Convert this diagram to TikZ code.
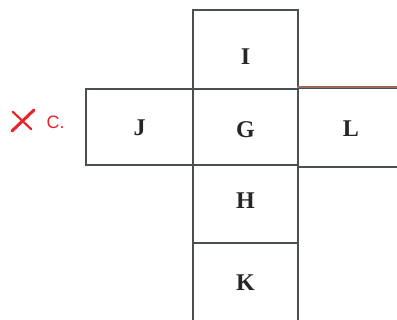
\documentclass[tikz,border=0pt]{standalone}
\usepackage{fontspec}
\setmainfont{Liberation Serif}
\newfontfamily\labelsans{Liberation Sans}
\definecolor{boxline}{HTML}{4A4F52}
\definecolor{brownline}{HTML}{9A6A5A}
\definecolor{markred}{HTML}{E8232A}
\tikzset{
  cell/.style={draw=boxline, line width=1.6pt, inner sep=0pt},
  letter/.style={inner sep=0pt, text=black!85, font=\bfseries\fontsize{24}{24}\selectfont},
}
\begin{document}
\begin{tikzpicture}[x=1pt,y=-1pt]
\useasboundingbox (0,0) rectangle (397,320);
\clip (0,0) rectangle (397,320);
\node[cell, minimum width=105pt, minimum height=79pt] (I) at (245.5,49.5) {};
\node[cell, minimum width=105pt, minimum height=76pt] (G) at (245.5,127) {};
\node[cell, minimum width=107pt, minimum height=76pt] (J) at (139.5,127) {};
\node[cell, minimum width=106pt, minimum height=79pt] (L) at (351,127.5) {};
\node[cell, minimum width=105pt, minimum height=78pt] (H) at (245.5,204) {};
\node[cell, minimum width=105pt, minimum height=82pt] (K) at (245.5,284) {};
\draw[brownline, line width=1.6pt] (L.north west) -- (L.north east);
\node[letter] (tI) at ([yshift=-7pt]I.center) {I};
\node[letter] (tG) at ([yshift=-3pt]G.center) {G};
\node[letter] (tJ) at ([yshift=-1pt]J.center) {J};
\node[letter] (tL) at ([yshift=-1.5pt]L.center) {L};
\node[letter] (tH) at ([yshift=3pt]H.center) {H};
\node[letter] (tK) at ([yshift=1pt]K.center) {K};
\node[text=markred, font=\labelsans\fontsize{18}{18}\selectfont, anchor=west] (C) at (43,122) {C.};
\coordinate (xa) at (12,131);
\coordinate (xb) at (34,110);
\coordinate (xc) at (13,112);
\coordinate (xd) at (31,129);
\draw[markred, line width=3pt, line cap=round] (xa) -- (xb);
\draw[markred, line width=2.2pt, line cap=round] (xc) -- (xd);
\end{tikzpicture}
\end{document}
